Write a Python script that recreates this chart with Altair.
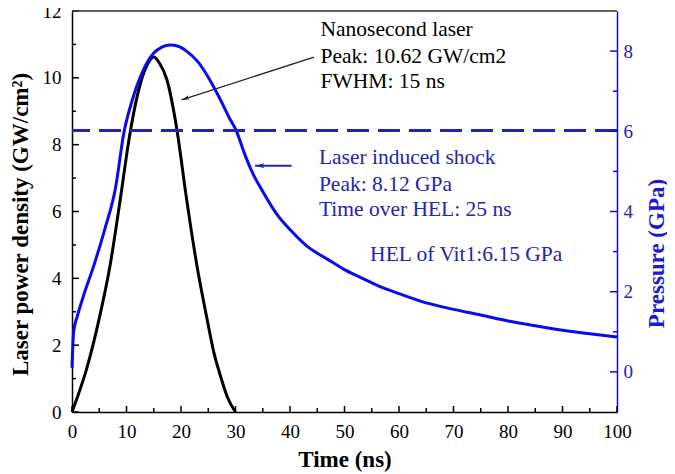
import altair as alt
import pandas as pd

# ---------------- data ----------------
time_laser = [0, 1, 2.7, 5, 7, 8.8, 10.6, 12.5, 14, 15, 16, 17.4, 19.2, 21, 22.9, 24.7, 26, 27.2, 28.5, 30]
laser_power = [0, 0.45, 1.3, 2.8, 4.4, 6.3, 8.3, 9.8, 10.45, 10.62, 10.45, 9.95, 8.5, 6.4, 4.4, 2.85, 1.8, 1.1, 0.45, 0]

time_pressure = [0, 0.3, 1, 2, 4, 6, 8, 9.5, 11, 13, 15, 16.5, 18, 19.5, 21, 23, 25, 27, 29, 30.2,
                 31.5, 33, 35, 37.5, 40, 43, 47, 50, 53.5, 57, 60, 65, 70, 75, 80, 85, 90, 95, 100]
pressure = [0.1, 1.0, 1.4, 1.85, 2.65, 3.55, 4.6, 5.95, 6.75, 7.5, 7.95, 8.1, 8.15, 8.12, 8.0, 7.75, 7.35, 6.85, 6.3, 6.0,
            5.5, 5.0, 4.5, 3.95, 3.55, 3.15, 2.8, 2.55, 2.32, 2.1, 1.95, 1.72, 1.56, 1.42, 1.27, 1.15, 1.04, 0.95, 0.87]

hel_pressure = [6.02]

x_major = [0, 10, 20, 30, 40, 50, 60, 70, 80, 90, 100]
x_minor = [5, 15, 25, 35, 45, 55, 65, 75, 85, 95]
left_major = [0, 2, 4, 6, 8, 10, 12]
left_minor = [1, 3, 5, 7, 9, 11]
right_major = [0, 2, 4, 6, 8]
right_minor = [1, 3, 5, 7]

laser_lines = ["Nanosecond laser", "Peak: 10.62 GW/cm2", "FWHM: 15 ns"]
laser_lines_t = [45.6, 45.6, 45.6]
laser_lines_y = [11.43, 10.62, 9.87]

shock_lines = ["Laser induced shock", "Peak: 8.12 GPa", "Time over HEL: 25 ns"]
shock_lines_t = [45.3, 45.3, 45.3]
shock_lines_y = [7.6, 6.79, 6.04]

hel_label = ["HEL of Vit1:6.15 GPa"]
hel_label_t = [54.7]
hel_label_y = [4.70]

black_arrow_tail = (44.4, 10.62)
black_arrow_head = (20.1, 9.34)
blue_arrow_tail = (40.3, 7.37)
blue_arrow_head = (33.6, 7.37)

# ---------------- styling ----------------
W, H = 545, 401
FONT = "Liberation Serif"
BLUE = "#0a0af0"
NAVY = "#2424b0"
ARROW = "M0,0L0.45,1.7L0,1.3L-0.45,1.7Z"
TXT = 21.5
TITLE = 23

xs = alt.Scale(domain=[0, 100], nice=False)
ls = alt.Scale(domain=[0, 12], nice=False)
rs = alt.Scale(domain=[-1, 9], nice=False)

x_axis = alt.Axis(orient="bottom", values=x_major, title="Time (ns)", labelFont=FONT, labelFontSize=19,
                  labelColor="black", titleFont=FONT, titleFontSize=TITLE, titleFontWeight="bold",
                  titleColor="black", ticks=False, tickSize=0, labelPadding=10, titlePadding=7, grid=False,
                  domainColor="black", domainWidth=1.5, labelFlush=False)
left_axis = alt.Axis(orient="left", values=left_major, title="Laser power density (GW/cm²)", labelFont=FONT,
                     labelFontSize=19, labelColor="black", titleFont=FONT, titleFontSize=TITLE,
                     titleFontWeight="bold", titleColor="black", titleAngle=270, titleX=-52, titleY=213,
                     titleBaseline="middle", ticks=False, tickSize=0, labelPadding=11, grid=False,
                     domainColor="black", domainWidth=1.5, labelFlush=False)
right_axis = alt.Axis(orient="right", values=right_major, title="Pressure (GPa)", labelFont=FONT,
                      labelFontSize=19, labelColor="#2020c0", titleFont=FONT, titleFontSize=TITLE,
                      titleFontWeight="bold", titleColor="#1a1ad0", titleAngle=270, titleX=39, titleY=242,
                      titleBaseline="middle", ticks=False, tickSize=0, labelPadding=6, grid=False,
                      domainColor=BLUE, domainWidth=1.5, labelFlush=False)


def X(field="t"):
    return alt.X(f"{field}:Q", scale=xs, axis=x_axis)


def XN(field="t"):
    return alt.X(f"{field}:Q", scale=xs, axis=None)


def YL(field="y"):
    return alt.Y(f"{field}:Q", scale=ls, axis=left_axis)


def YLN(field="y"):
    return alt.Y(f"{field}:Q", scale=ls, axis=None)


def YR(field="p"):
    return alt.Y(f"{field}:Q", scale=rs, axis=right_axis)


def YRN(field="p"):
    return alt.Y(f"{field}:Q", scale=rs, axis=None)


laser_df = pd.DataFrame({"t": time_laser, "y": laser_power})
press_df = pd.DataFrame({"t": time_pressure, "p": pressure})

# ---------------- left-axis group: laser pulse + annotations ----------------
laser_line = alt.Chart(laser_df).mark_line(color="black", strokeWidth=3, interpolate="monotone").encode(
    x=X(), y=YL())

laser_text = alt.Chart(pd.DataFrame({"t": laser_lines_t, "y": laser_lines_y, "s": laser_lines})).mark_text(
    font=FONT, fontSize=TXT, align="left", baseline="middle", color="black").encode(
    x=X(), y=YL(), text="s:N")
shock_text = alt.Chart(pd.DataFrame({"t": shock_lines_t, "y": shock_lines_y, "s": shock_lines})).mark_text(
    font=FONT, fontSize=TXT, align="left", baseline="middle", color=NAVY).encode(
    x=X(), y=YL(), text="s:N")
hel_text = alt.Chart(pd.DataFrame({"t": hel_label_t, "y": hel_label_y, "s": hel_label})).mark_text(
    font=FONT, fontSize=TXT, align="left", baseline="middle", color=NAVY).encode(
    x=X(), y=YL(), text="s:N")


def arrow(tail, head, color, angle, width, size):
    df = pd.DataFrame({"t": [tail[0]], "t2": [head[0]], "y": [tail[1]], "y2": [head[1]]})
    shaft = alt.Chart(df).mark_rule(color=color, strokeWidth=width).encode(
        x=X(), x2="t2:Q", y=YL(), y2="y2:Q")
    hd = pd.DataFrame({"t": [head[0]], "y": [head[1]]})
    tip = alt.Chart(hd).mark_point(shape=ARROW, angle=angle, filled=True, opacity=1, color=color,
                                   size=size, strokeWidth=0).encode(x=X(), y=YL())
    return [shaft, tip]


black_arrow = arrow(black_arrow_tail, black_arrow_head, "#222222", 251, 1.3, 90)
blue_arrow = arrow(blue_arrow_tail, blue_arrow_head, NAVY, 270, 2, 120)

left_group = alt.layer(laser_line, laser_text, shock_text, hel_text, *black_arrow, *blue_arrow)

# ---------------- right-axis group: pressure + HEL ----------------
press_line = alt.Chart(press_df).mark_line(color=BLUE, strokeWidth=3, interpolate="monotone").encode(
    x=XN(), y=YR())
hel_line = alt.Chart(pd.DataFrame({"p": hel_pressure})).mark_rule(color=NAVY, strokeWidth=3,
                                                                  strokeDash=[22, 9]).encode(y=YR())
right_group = alt.layer(press_line, hel_line)

# ---------------- inward ticks and top frame (own scales, no axes) ----------------
xt_major = alt.Chart(pd.DataFrame({"t": x_major})).mark_rule(color="black", strokeWidth=1.5).encode(
    x=XN(), y=alt.value(H), y2=alt.value(H - 6))
xt_minor = alt.Chart(pd.DataFrame({"t": x_minor})).mark_rule(color="black", strokeWidth=1.5).encode(
    x=XN(), y=alt.value(H), y2=alt.value(H - 4))
lt_major = alt.Chart(pd.DataFrame({"y": left_major})).mark_rule(color="black", strokeWidth=1.5).encode(
    y=YLN(), x=alt.value(0), x2=alt.value(7))
lt_minor = alt.Chart(pd.DataFrame({"y": left_minor})).mark_rule(color="black", strokeWidth=1.5).encode(
    y=YLN(), x=alt.value(0), x2=alt.value(4))
top_border = alt.Chart(pd.DataFrame({"y": [12]})).mark_rule(color="#333333", strokeWidth=1.5).encode(
    y=YLN(), x=alt.value(0), x2=alt.value(W))
tick_left_group = alt.layer(xt_major, xt_minor, lt_major, lt_minor, top_border)

rt_major = alt.Chart(pd.DataFrame({"p": right_major})).mark_rule(color=BLUE, strokeWidth=1.5).encode(
    y=YRN(), x=alt.value(W), x2=alt.value(W - 7))
rt_minor = alt.Chart(pd.DataFrame({"p": right_minor})).mark_rule(color=BLUE, strokeWidth=1.5).encode(
    y=YRN(), x=alt.value(W), x2=alt.value(W - 4))
tick_right_group = alt.layer(rt_major, rt_minor)

chart = alt.layer(left_group, right_group, tick_left_group, tick_right_group).resolve_scale(
    x="independent", y="independent").properties(
    width=W, height=H,
    padding={"left": 64, "top": 3, "right": 50, "bottom": 62},
    autosize=alt.AutoSizeParams(type="none"),
).configure_view(stroke=None)

chart.save("out.html", embed_options={"renderer": "svg", "actions": False})
